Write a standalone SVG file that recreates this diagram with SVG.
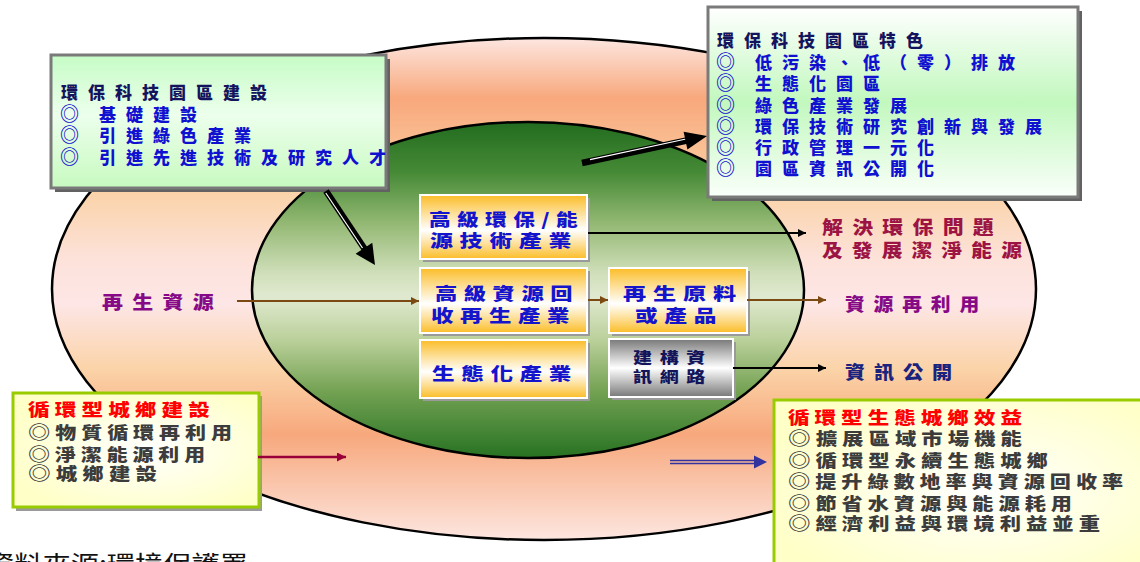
<svg xmlns="http://www.w3.org/2000/svg" width="1140" height="562" viewBox="0 0 1140 562">
<style>
text{font-family:"Noto Sans CJK TC","Noto Sans CJK SC",sans-serif;font-weight:900}
.t17{font-size:17px;letter-spacing:10px}
.navy{fill:#14145e}
.blue{fill:#1010d0}
.ring{font-size:19px;font-weight:bold}
.ring2{font-size:18px;font-weight:bold}
.mb{font-size:17px;letter-spacing:5px;fill:#1414cc}
.lab{font-size:18px;letter-spacing:8px}
.yb{font-size:17px;letter-spacing:4px;fill:#3c3c3c}
.red{fill:#ff0000}
.ln{fill:none;stroke-width:2}
</style>
<defs>
<linearGradient id="gOuter" x1="0" y1="0" x2="0" y2="1">
<stop offset="0" stop-color="#fde6e0"/>
<stop offset="0.12" stop-color="#f8a87c"/>
<stop offset="0.3" stop-color="#fad2a6"/>
<stop offset="0.44" stop-color="#fde2da"/>
<stop offset="0.53" stop-color="#fde6e6"/>
<stop offset="0.66" stop-color="#fbd3a8"/>
<stop offset="0.79" stop-color="#f7a87c"/>
<stop offset="1" stop-color="#fde6e0"/>
</linearGradient>
<linearGradient id="gInner" x1="0" y1="0" x2="0" y2="1">
<stop offset="0" stop-color="#226c1f"/>
<stop offset="0.15" stop-color="#468a36"/>
<stop offset="0.3" stop-color="#93b873"/>
<stop offset="0.45" stop-color="#d0dfba"/>
<stop offset="0.52" stop-color="#e0e9d0"/>
<stop offset="0.65" stop-color="#bad09a"/>
<stop offset="0.8" stop-color="#74a253"/>
<stop offset="1" stop-color="#267222"/>
</linearGradient>
<linearGradient id="gOrange" x1="0" y1="0" x2="0" y2="1">
<stop offset="0" stop-color="#fbbd28"/>
<stop offset="0.55" stop-color="#ffffff"/>
<stop offset="1" stop-color="#fbbd28"/>
</linearGradient>
<linearGradient id="gGray" x1="0" y1="0" x2="0" y2="1">
<stop offset="0" stop-color="#787878"/>
<stop offset="0.5" stop-color="#ffffff"/>
<stop offset="1" stop-color="#787878"/>
</linearGradient>
<linearGradient id="gGreenA" x1="0" y1="0" x2="0" y2="1">
<stop offset="0" stop-color="#c6fcc6"/>
<stop offset="0.45" stop-color="#ecffec"/>
<stop offset="1" stop-color="#c8fac0"/>
</linearGradient>
<linearGradient id="gGreenB" x1="0" y1="0" x2="0" y2="1">
<stop offset="0" stop-color="#ffffff"/>
<stop offset="0.5" stop-color="#c2f8be"/>
<stop offset="1" stop-color="#fafffa"/>
</linearGradient>
<radialGradient id="gYellow" cx="0.55" cy="0.5" r="0.6">
<stop offset="0" stop-color="#ffffff"/>
<stop offset="1" stop-color="#ffffc8"/>
</radialGradient>
<marker id="mBrown" viewBox="0 0 10 10" refX="10" refY="5" markerWidth="9" markerHeight="8" markerUnits="userSpaceOnUse" orient="auto"><path d="M0,0L10,5L0,10z" fill="#7b4a12"/></marker>
<marker id="mBlack" viewBox="0 0 10 10" refX="10" refY="5" markerWidth="10" markerHeight="8" markerUnits="userSpaceOnUse" orient="auto"><path d="M0,0L10,5L0,10z" fill="#000"/></marker>
<marker id="mRed" viewBox="0 0 10 10" refX="10" refY="5" markerWidth="11" markerHeight="9" markerUnits="userSpaceOnUse" orient="auto"><path d="M0,0L10,5L0,10z" fill="#99003a"/></marker>
</defs>
<rect width="1140" height="562" fill="#ffffff"/>

<g id="outer-ring"><ellipse cx="544" cy="289" rx="492" ry="251" fill="url(#gOuter)" stroke="#000" stroke-width="2.5"/></g>
<g id="inner-core"><ellipse cx="528" cy="290" rx="276" ry="168" fill="url(#gInner)" stroke="#000" stroke-width="2.5"/></g>

<g id="park-construction">
<rect x="55" y="59" width="335" height="133" fill="#626262"/>
<rect x="51" y="55" width="335" height="133" fill="url(#gGreenA)" stroke="#7a7a7a" stroke-width="3"/>
<text class="t17 navy" x="61" y="99">環保科技園區建設</text>
<text class="t17 blue" y="121"><tspan class="ring" x="60">◎</tspan><tspan x="99">基礎建設</tspan></text>
<text class="t17 blue" y="142"><tspan class="ring" x="60">◎</tspan><tspan x="99">引進綠色產業</tspan></text>
<text class="t17 blue" y="164"><tspan class="ring" x="60">◎</tspan><tspan x="99">引進先進技術及研究人才</tspan></text>
</g>

<g id="park-features">
<rect x="712" y="11" width="370" height="190" fill="#626262"/>
<rect x="708" y="7" width="370" height="190" fill="url(#gGreenB)" stroke="#7a7a7a" stroke-width="3"/>
<text class="t17 navy" x="717" y="47">環保科技園區特色</text>
<text class="t17 blue" y="69"><tspan class="ring" x="716">◎</tspan><tspan x="755">低污染、低（零）排放</tspan></text>
<text class="t17 blue" y="90"><tspan class="ring" x="716">◎</tspan><tspan x="755">生態化園區</tspan></text>
<text class="t17 blue" y="112"><tspan class="ring" x="716">◎</tspan><tspan x="755">綠色產業發展</tspan></text>
<text class="t17 blue" y="133"><tspan class="ring" x="716">◎</tspan><tspan x="755">環保技術研究創新與發展</tspan></text>
<text class="t17 blue" y="154"><tspan class="ring" x="716">◎</tspan><tspan x="755">行政管理一元化</tspan></text>
<text class="t17 blue" y="175"><tspan class="ring" x="716">◎</tspan><tspan x="755">園區資訊公開化</tspan></text>
</g>

<g id="box-energy-industry">
<rect x="423" y="198" width="167" height="64" fill="#9a9a9a"/>
<rect x="420" y="195" width="167" height="64" fill="url(#gOrange)" stroke="#fff" stroke-width="2"/>
<text class="mb" x="429" y="226" textLength="155" lengthAdjust="spacingAndGlyphs">高級環保/能</text>
<text class="mb" x="430" y="247" textLength="148" lengthAdjust="spacingAndGlyphs">源技術產業</text>
</g>

<g id="box-recycling-industry">
<rect x="423" y="271" width="167" height="65" fill="#9a9a9a"/>
<rect x="420" y="268" width="167" height="65" fill="url(#gOrange)" stroke="#fff" stroke-width="2"/>
<text class="mb" x="435" y="300" textLength="144" lengthAdjust="spacingAndGlyphs">高級資源回</text>
<text class="mb" x="431" y="322" textLength="145" lengthAdjust="spacingAndGlyphs">收再生產業</text>
</g>

<g id="box-eco-industry">
<rect x="423" y="343" width="167" height="58" fill="#9a9a9a"/>
<rect x="420" y="340" width="167" height="58" fill="url(#gOrange)" stroke="#fff" stroke-width="2"/>
<text class="mb" x="432" y="380" textLength="146" lengthAdjust="spacingAndGlyphs">生態化產業</text>
</g>

<g id="box-recycled-material">
<rect x="612" y="271" width="138" height="65" fill="#9a9a9a"/>
<rect x="609" y="268" width="138" height="65" fill="url(#gOrange)" stroke="#fff" stroke-width="2"/>
<text class="mb" x="623" y="300" textLength="120" lengthAdjust="spacingAndGlyphs">再生原料</text>
<text class="mb" x="635" y="322" textLength="88" lengthAdjust="spacingAndGlyphs">或產品</text>
</g>

<g id="box-info-network">
<rect x="612" y="342" width="124" height="58" fill="#9a9a9a"/>
<rect x="609" y="339" width="124" height="58" fill="url(#gGray)" stroke="#fff" stroke-width="2"/>
<text x="633" y="363" style="font-size:15px;letter-spacing:6px;fill:#14145a" textLength="80" lengthAdjust="spacingAndGlyphs">建構資</text>
<text x="633" y="382" style="font-size:15px;letter-spacing:6px;fill:#14145a" textLength="80" lengthAdjust="spacingAndGlyphs">訊網路</text>
</g>

<g id="label-renewable">
<text class="lab" x="102" y="309" fill="#860a86" textLength="121" lengthAdjust="spacingAndGlyphs">再生資源</text>
</g>
<g id="label-solve">
<text class="lab" x="822" y="234" fill="#9c1444" textLength="181" lengthAdjust="spacingAndGlyphs">解決環保問題</text>
<text class="lab" x="822" y="257" fill="#9c1444" textLength="209" lengthAdjust="spacingAndGlyphs">及發展潔淨能源</text>
</g>
<g id="label-reuse">
<text class="lab" x="845" y="311" fill="#860a86" textLength="143" lengthAdjust="spacingAndGlyphs">資源再利用</text>
</g>
<g id="label-info">
<text class="lab" x="845" y="379" fill="#1a237e" textLength="116" lengthAdjust="spacingAndGlyphs">資訊公開</text>
</g>

<g id="urban-rural-construction">
<rect x="16" y="396" width="246" height="115" fill="#9a9a9a"/>
<rect x="13" y="393" width="246" height="114" fill="url(#gYellow)" stroke="#99cc00" stroke-width="3"/>
<text class="yb red" x="28" y="416" textLength="187" lengthAdjust="spacingAndGlyphs">循環型城鄉建設</text>
<text class="yb" x="28" y="439" textLength="209" lengthAdjust="spacingAndGlyphs"><tspan class="ring2">◎</tspan>物質循環再利用</text>
<text class="yb" x="28" y="461" textLength="182" lengthAdjust="spacingAndGlyphs"><tspan class="ring2">◎</tspan>淨潔能源利用</text>
<text class="yb" x="28" y="480" textLength="134" lengthAdjust="spacingAndGlyphs"><tspan class="ring2">◎</tspan>城鄉建設</text>
</g>

<g id="eco-benefits">
<rect x="777" y="403" width="380" height="180" fill="#9a9a9a"/>
<rect x="774" y="400" width="380" height="180" fill="url(#gYellow)" stroke="#99cc00" stroke-width="3"/>
<text class="yb red" x="788" y="424" textLength="239" lengthAdjust="spacingAndGlyphs">循環型生態城鄉效益</text>
<text class="yb" x="788" y="445" textLength="239" lengthAdjust="spacingAndGlyphs"><tspan class="ring2">◎</tspan>擴展區域市場機能</text>
<text class="yb" x="788" y="467" textLength="265" lengthAdjust="spacingAndGlyphs"><tspan class="ring2">◎</tspan>循環型永續生態城鄉</text>
<text class="yb" x="788" y="488" textLength="340" lengthAdjust="spacingAndGlyphs"><tspan class="ring2">◎</tspan>提升綠數地率與資源回收率</text>
<text class="yb" x="788" y="510" textLength="289" lengthAdjust="spacingAndGlyphs"><tspan class="ring2">◎</tspan>節省水資源與能源耗用</text>
<text class="yb" x="788" y="530" textLength="317" lengthAdjust="spacingAndGlyphs"><tspan class="ring2">◎</tspan>經濟利益與環境利益並重</text>
</g>

<g id="source-note">
<text x="-14" y="573" style="font-size:24px;font-weight:normal;fill:#111" textLength="262" lengthAdjust="spacingAndGlyphs">資料來源:環境保護署</text>
</g>

<g id="connectors">
<line class="ln" x1="237" y1="301" x2="419" y2="301" stroke="#7b4a12" marker-end="url(#mBrown)"/>
<line class="ln" x1="588" y1="300" x2="608" y2="300" stroke="#7b4a12" marker-end="url(#mBrown)"/>
<line class="ln" x1="747" y1="300" x2="826" y2="300" stroke="#7b4a12" marker-end="url(#mBrown)"/>
<line class="ln" x1="588" y1="233" x2="806" y2="233" stroke="#000" marker-end="url(#mBlack)"/>
<line class="ln" x1="733" y1="368" x2="826" y2="368" stroke="#000" marker-end="url(#mBlack)"/>
<line x1="258" y1="457" x2="346" y2="457" stroke="#99003a" stroke-width="2.5" marker-end="url(#mRed)"/>
<g id="arrow-blue">
<line x1="670" y1="460.5" x2="756" y2="460.5" stroke="#3333a0" stroke-width="1.5"/>
<line x1="670" y1="463.5" x2="756" y2="463.5" stroke="#3333a0" stroke-width="1.5"/>
<path d="M754,455.5L767,462L754,468.5z" fill="#3333a0"/>
</g>
<g id="arrow-down">
<line x1="326" y1="191" x2="366" y2="251" stroke="#000" stroke-width="6.5"/>
<line x1="325.8" y1="193" x2="362.5" y2="248" stroke="#fff" stroke-width="1.2"/>
<path d="M375,265L372.3,242.8L355.6,253.8z" fill="#000"/>
</g>
<g id="arrow-up">
<line x1="582" y1="163" x2="688" y2="140.2" stroke="#000" stroke-width="6.5"/>
<line x1="590" y1="159.6" x2="686" y2="139" stroke="#fff" stroke-width="1.2"/>
<path d="M707,136L687.4,149.4L683.6,131.8z" fill="#000"/>
</g>
</g>
</svg>
